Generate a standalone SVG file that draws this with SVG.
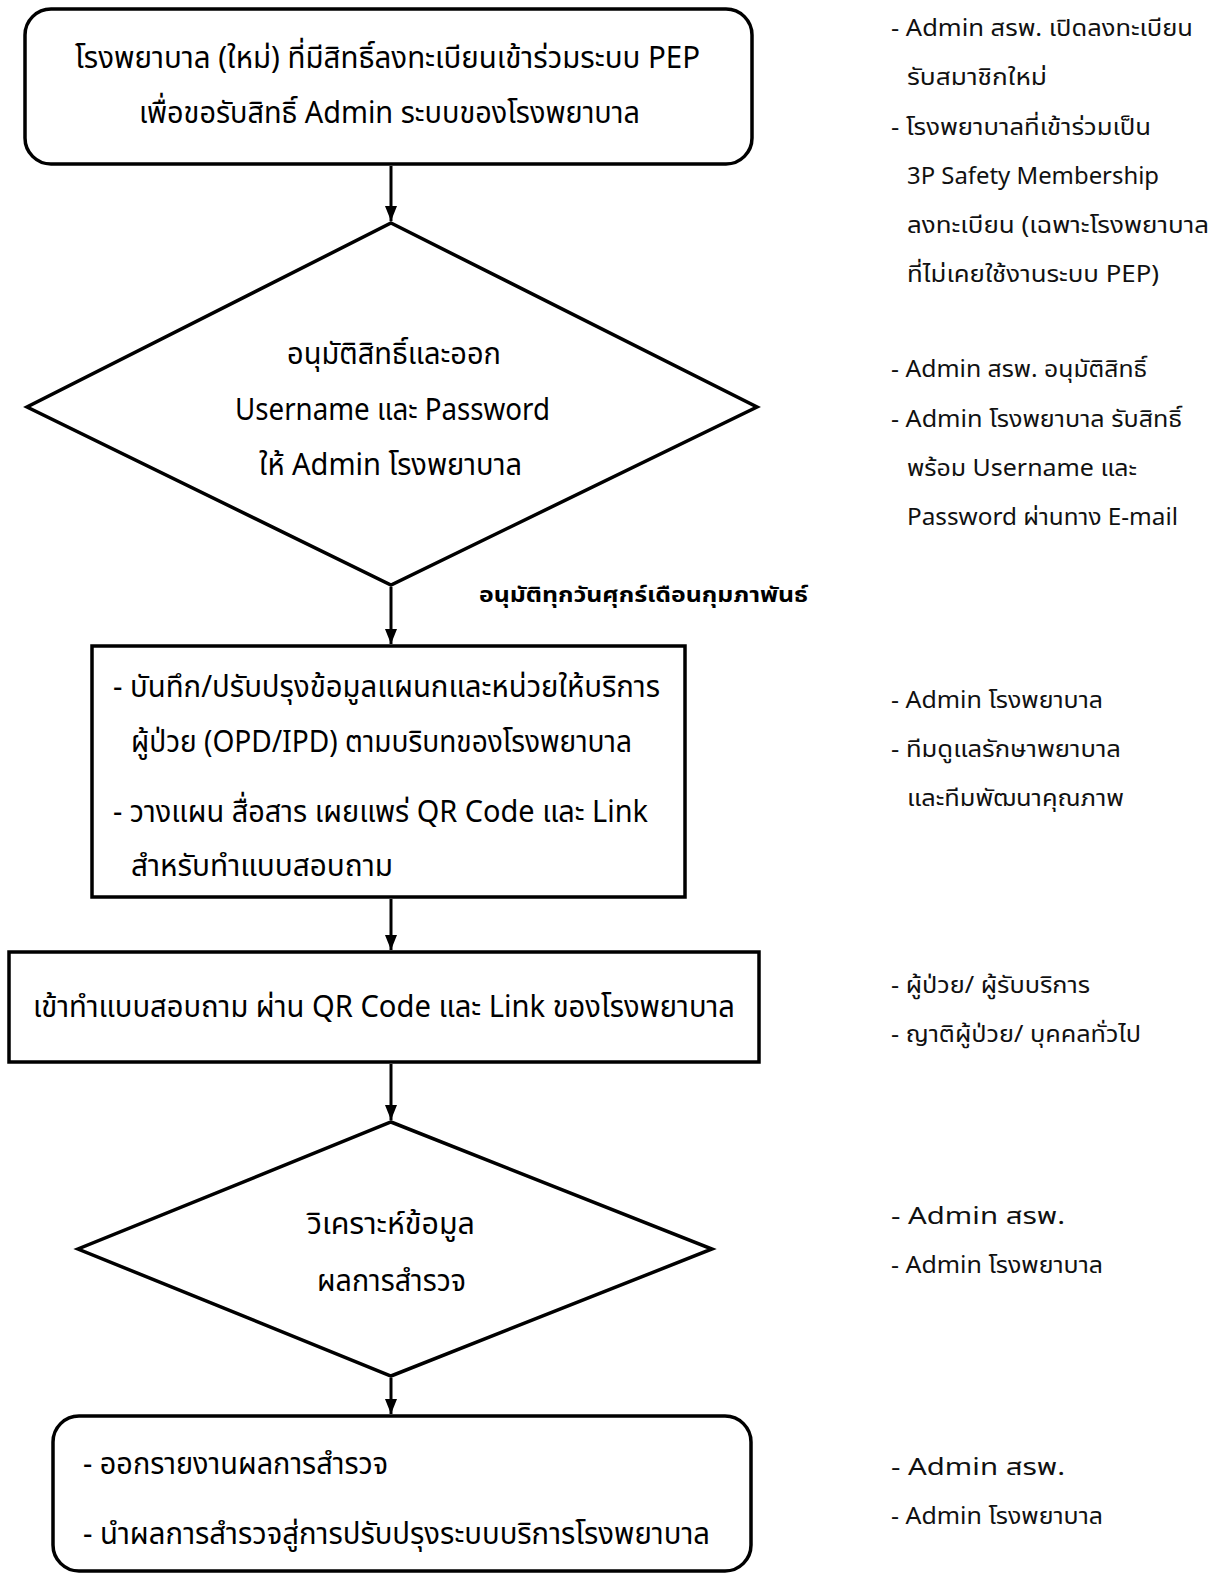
<svg xmlns="http://www.w3.org/2000/svg" width="1219" height="1575" viewBox="0 0 1219 1575">
<style>
.node{fill:#fff;stroke:#000;stroke-width:3.5}
.bx{font-family:"Noto Sans","Noto Sans Thai",Loma,Garuda,sans-serif;font-size:30px;fill:#000}
.side{font-family:"Noto Sans","Noto Sans Thai",Loma,Garuda,sans-serif;font-size:23px;fill:#111}
.lbl{font-family:"Noto Sans","Noto Sans Thai",Loma,Garuda,sans-serif;font-size:22px;font-weight:bold;fill:#000}
.edge{stroke:#000;stroke-width:3;fill:none;marker-end:url(#ah)}
</style>
<defs>
<marker id="ah" viewBox="0 0 15 12" refX="15" refY="6" markerWidth="15" markerHeight="12" markerUnits="userSpaceOnUse" orient="auto">
<path d="M0,0 L15,6 L0,12 Z" fill="#000"/>
</marker>
</defs>
<rect width="1219" height="1575" fill="#fff"/>
<g id="n1">
<rect class="node" x="25" y="9" width="727" height="155" rx="26"/>
<text class="bx" x="75" y="68" textLength="625" lengthAdjust="spacingAndGlyphs">โรงพยาบาล (ใหม่) ที่มีสิทธิ์ลงทะเบียนเข้าร่วมระบบ PEP</text>
<text class="bx" x="139" y="123" textLength="501" lengthAdjust="spacingAndGlyphs">เพื่อขอรับสิทธิ์ Admin ระบบของโรงพยาบาล</text>
</g>
<g id="n2">
<polygon class="node" points="391,223 757,407 391,585 27,407"/>
<text class="bx" x="287" y="364" textLength="214" lengthAdjust="spacingAndGlyphs">อนุมัติสิทธิ์และออก</text>
<text class="bx" x="235" y="420" textLength="315" lengthAdjust="spacingAndGlyphs">Username และ Password</text>
<text class="bx" x="259" y="475" textLength="263" lengthAdjust="spacingAndGlyphs">ให้ Admin โรงพยาบาล</text>
</g>
<g id="n3">
<rect class="node" x="92" y="646" width="593" height="251"/>
<text class="bx" x="113" y="697" textLength="547" lengthAdjust="spacingAndGlyphs">- บันทึก/ปรับปรุงข้อมูลแผนกและหน่วยให้บริการ</text>
<text class="bx" x="131" y="752" textLength="501" lengthAdjust="spacingAndGlyphs">ผู้ป่วย (OPD/IPD) ตามบริบทของโรงพยาบาล</text>
<text class="bx" x="113" y="822" textLength="535" lengthAdjust="spacingAndGlyphs">- วางแผน สื่อสาร เผยแพร่ QR Code และ Link</text>
<text class="bx" x="131" y="876" textLength="262" lengthAdjust="spacingAndGlyphs">สำหรับทำแบบสอบถาม</text>
</g>
<g id="n4">
<rect class="node" x="9" y="952" width="750" height="110"/>
<text class="bx" x="33" y="1017" textLength="702" lengthAdjust="spacingAndGlyphs">เข้าทำแบบสอบถาม ผ่าน QR Code และ Link ของโรงพยาบาล</text>
</g>
<g id="n5">
<polygon class="node" points="391,1122 712,1249 391,1376 78,1249"/>
<text class="bx" x="307" y="1234" textLength="168" lengthAdjust="spacingAndGlyphs">วิเคราะห์ข้อมูล</text>
<text class="bx" x="317" y="1291" textLength="149" lengthAdjust="spacingAndGlyphs">ผลการสำรวจ</text>
</g>
<g id="n6">
<rect class="node" x="53" y="1416" width="698" height="155" rx="26"/>
<text class="bx" x="83" y="1474" textLength="305" lengthAdjust="spacingAndGlyphs">- ออกรายงานผลการสำรวจ</text>
<text class="bx" x="83" y="1544" textLength="627" lengthAdjust="spacingAndGlyphs">- นำผลการสำรวจสู่การปรับปรุงระบบบริการโรงพยาบาล</text>
</g>
<g id="connectors">
<line class="edge" x1="391" y1="166" x2="391" y2="221"/>
<line class="edge" x1="391" y1="587" x2="391" y2="644"/>
<line class="edge" x1="391" y1="899" x2="391" y2="950"/>
<line class="edge" x1="391" y1="1064" x2="391" y2="1120"/>
<line class="edge" x1="391" y1="1378" x2="391" y2="1414"/>
<text class="lbl" x="479" y="602" textLength="329" lengthAdjust="spacingAndGlyphs">อนุมัติทุกวันศุกร์เดือนกุมภาพันธ์</text>
</g>
<g id="notes">
<text class="side" x="891" y="36" textLength="302" lengthAdjust="spacingAndGlyphs">- Admin สรพ. เปิดลงทะเบียน</text>
<text class="side" x="907" y="85" textLength="140" lengthAdjust="spacingAndGlyphs">รับสมาชิกใหม่</text>
<text class="side" x="891" y="135" textLength="260" lengthAdjust="spacingAndGlyphs">- โรงพยาบาลที่เข้าร่วมเป็น</text>
<text class="side" x="907" y="184" textLength="252" lengthAdjust="spacingAndGlyphs">3P Safety Membership</text>
<text class="side" x="907" y="233" textLength="302" lengthAdjust="spacingAndGlyphs">ลงทะเบียน (เฉพาะโรงพยาบาล</text>
<text class="side" x="907" y="282" textLength="252" lengthAdjust="spacingAndGlyphs">ที่ไม่เคยใช้งานระบบ PEP)</text>
<text class="side" x="891" y="377" textLength="256" lengthAdjust="spacingAndGlyphs">- Admin สรพ. อนุมัติสิทธิ์</text>
<text class="side" x="891" y="427" textLength="291" lengthAdjust="spacingAndGlyphs">- Admin โรงพยาบาล รับสิทธิ์</text>
<text class="side" x="907" y="476" textLength="230" lengthAdjust="spacingAndGlyphs">พร้อม Username และ</text>
<text class="side" x="907" y="525" textLength="271" lengthAdjust="spacingAndGlyphs">Password ผ่านทาง E-mail</text>
<text class="side" x="891" y="708" textLength="212" lengthAdjust="spacingAndGlyphs">- Admin โรงพยาบาล</text>
<text class="side" x="891" y="757" textLength="230" lengthAdjust="spacingAndGlyphs">- ทีมดูแลรักษาพยาบาล</text>
<text class="side" x="907" y="806" textLength="217" lengthAdjust="spacingAndGlyphs">และทีมพัฒนาคุณภาพ</text>
<text class="side" x="891" y="993" textLength="199" lengthAdjust="spacingAndGlyphs">- ผู้ป่วย/ ผู้รับบริการ</text>
<text class="side" x="891" y="1042" textLength="250" lengthAdjust="spacingAndGlyphs">- ญาติผู้ป่วย/ บุคคลทั่วไป</text>
<text class="side" x="891" y="1224" textLength="174" lengthAdjust="spacingAndGlyphs">- Admin สรพ.</text>
<text class="side" x="891" y="1273" textLength="212" lengthAdjust="spacingAndGlyphs">- Admin โรงพยาบาล</text>
<text class="side" x="891" y="1475" textLength="174" lengthAdjust="spacingAndGlyphs">- Admin สรพ.</text>
<text class="side" x="891" y="1524" textLength="212" lengthAdjust="spacingAndGlyphs">- Admin โรงพยาบาล</text>
</g>
</svg>
